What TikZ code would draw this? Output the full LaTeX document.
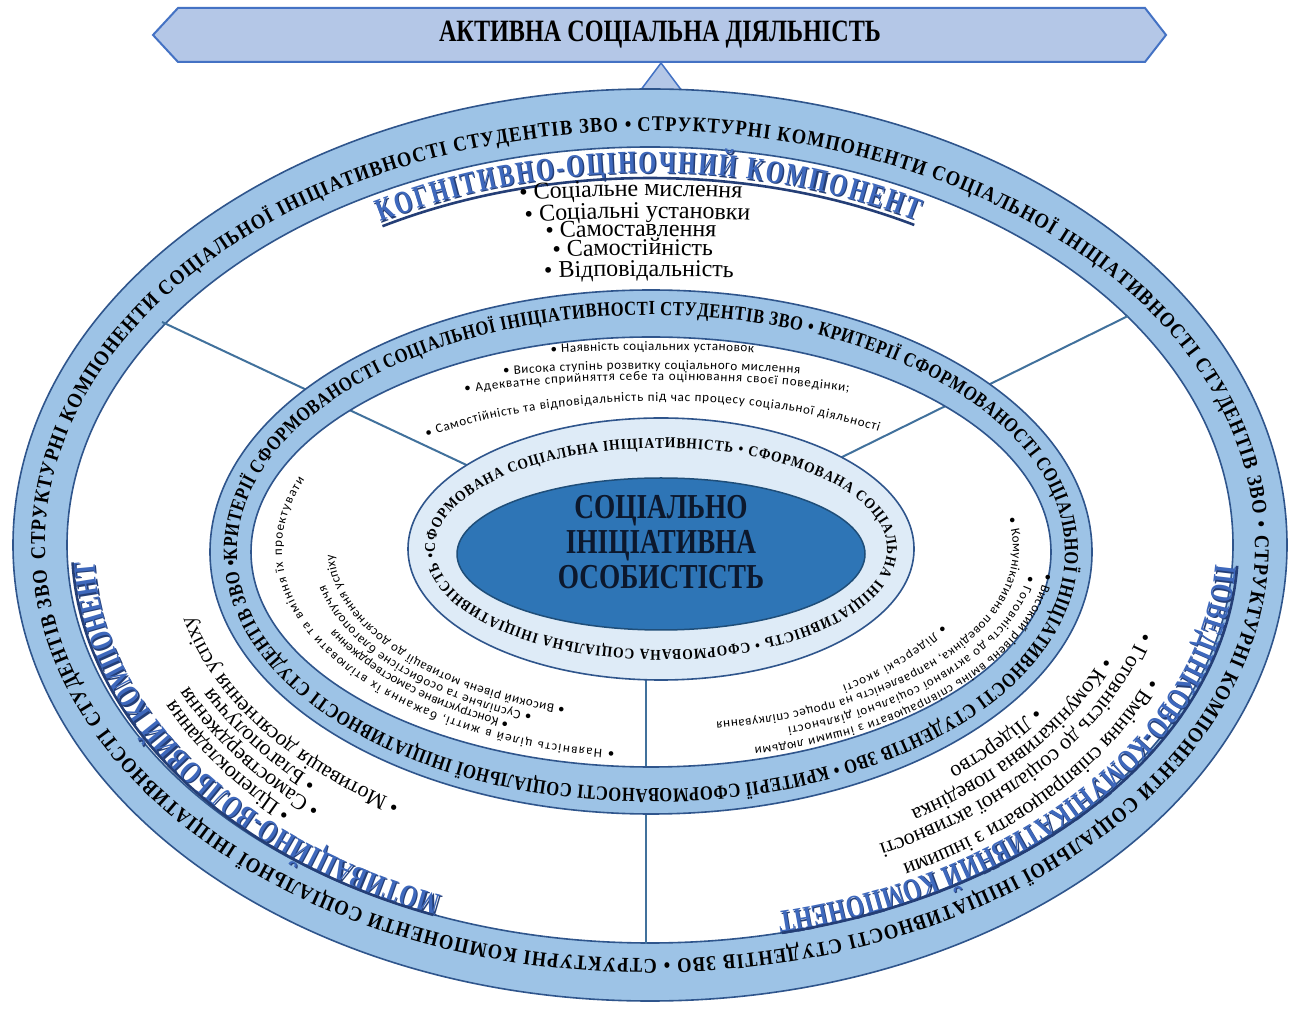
\documentclass[tikz,border=0pt]{standalone}
\usepackage{fontspec}
\setmainfont{Liberation Serif}
\newfontfamily\condA{Liberation Serif}[FakeStretch=0.78]
\newfontfamily\condR{Liberation Serif}[FakeStretch=0.88]
\newfontfamily\condM{Liberation Serif}[FakeStretch=0.83]
\newfontfamily\condI{Liberation Serif}[FakeStretch=0.9]
\newfontfamily\condH{Liberation Serif}[FakeStretch=0.72]
\newfontfamily\sansf{Carlito}
\usetikzlibrary{decorations.text}

\definecolor{bandfill}{RGB}{157,195,230}
\definecolor{bandline}{RGB}{47,85,140}
\definecolor{innerfill}{RGB}{222,235,247}
\definecolor{corefill}{RGB}{46,117,182}
\definecolor{coreline}{RGB}{31,78,121}
\definecolor{bannerfill}{RGB}{180,199,231}
\definecolor{bannerline}{RGB}{68,114,196}
\definecolor{spoke}{RGB}{65,113,156}
\definecolor{hdrblue}{RGB}{62,104,188}
\definecolor{hdrdark}{RGB}{36,62,118}
\definecolor{coretext}{RGB}{12,24,45}

% fonts used along the curves
\newcommand\fOuter{\condR\bfseries\fontsize{21}{21}\selectfont}
\newcommand\fMid{\condM\bfseries\fontsize{20}{20}\selectfont}
\newcommand\fIn{\condI\bfseries\fontsize{15}{15}\selectfont}
\newcommand\fHead{\condH\bfseries\fontsize{32}{32}\selectfont}
\newcommand\fList{\rmfamily\fontsize{24}{24}\selectfont}
\newcommand\fListB{\rmfamily\fontsize{22}{22}\selectfont}
\newcommand\fSmall{\sansf\fontsize{13}{13}\selectfont}

% text along an elliptic arc: [keys]{cx}{cy from top}{rx}{ry}{from}{to}{text}
% angles run clockwise on the page
\newcommand\arctext[8][]{%
  \path[decorate,decoration={text along path,#1,text={#8}}]
    ({#2+(#4)*cos(#6)},{1012-(#3)-(#5)*sin(#6)})
    arc[start angle={-(#6)},end angle={-(#7)},x radius={#4},y radius={#5}];}
\newcommand\arcdraw[7][]{%
  \draw[#1] ({#2+(#4)*cos(#6)},{1012-(#3)-(#5)*sin(#6)})
    arc[start angle={-(#6)},end angle={-(#7)},x radius={#4},y radius={#5}];}
% heading with a dark drop shadow: {cx}{cy}{rx}{ry}{from}{to}{text}
\newcommand\headtext[7]{%
  \begin{scope}[shift={(1.4,-1.4)}]
    \arctext[text align={fit to path},text color=hdrdark]{#1}{#2}{#3}{#4}{#5}{#6}{|\fHead|#7}
  \end{scope}
  \arctext[text align={fit to path},text color=hdrblue]{#1}{#2}{#3}{#4}{#5}{#6}{|\fHead|#7}}

\begin{document}
\begin{tikzpicture}[x=1pt,y=1pt,
  band/.style={fill=bandfill,even odd rule},
  bandedge/.style={draw=bandline,line width=1.6pt},
  spokeline/.style={draw=spoke,line width=2pt},
  hdrline/.style={draw=hdrdark,line width=2.6pt}]
\useasboundingbox (0,0) rectangle (1295,1012);
\fill[white] (0,0) rectangle (1295,1012);

% ---- banner and pointer
\filldraw[fill=bannerfill,draw=bannerline,line width=2pt]
  (153,977) -- (178,1004) -- (1145,1004) -- (1166,977) -- (1145,950) -- (178,950) -- cycle;
\node (banner) at (660,977) {\condA\bfseries\fontsize{31}{32}\selectfont АКТИВНА СОЦІАЛЬНА ДІЯЛЬНІСТЬ};
\coordinate (tipTop) at (661,949);
\coordinate (tipL) at (637,917);
\coordinate (tipR) at (685,917);
\filldraw[fill=bannerfill,draw=bannerline,line width=1.5pt] (tipL) -- (tipTop) -- (tipR) -- cycle;

% ---- outer ring
\fill[band] (650,467) ellipse[x radius=637,y radius=456] (650,467) ellipse[x radius=583,y radius=398];
\draw[bandedge] (650,467) ellipse[x radius=637,y radius=456];
\draw[bandedge] (650,467) ellipse[x radius=583,y radius=398];

% ---- spokes between the sectors
\coordinate (tlA) at (162,690); \coordinate (tlB) at (475,543);
\coordinate (trA) at (1128,696); \coordinate (trB) at (830,549);
\coordinate (btA) at (646,68);  \coordinate (btB) at (646,340);
\draw[spokeline] (tlA) -- (tlB);
\draw[spokeline] (trA) -- (trB);
\draw[spokeline] (btA) -- (btB);

% ---- middle ring
\fill[band] (651,460) ellipse[x radius=441,y radius=262] (651,460) ellipse[x radius=400,y radius=215];
\draw[bandedge] (651,460) ellipse[x radius=441,y radius=262];
\draw[bandedge] (651,460) ellipse[x radius=400,y radius=215];

% ---- inner ring and core
\filldraw[fill=innerfill,draw=bandline,line width=1.6pt] (661,463) ellipse[x radius=253,y radius=131];
\filldraw[fill=corefill,draw=coreline,line width=1.5pt] (661,458) ellipse[x radius=204,y radius=76];
\node[name=core,align=center,text=coretext,font=\condA\bfseries\fontsize{35}{35}\selectfont]
  at (661,470) {СОЦІАЛЬНО\\ІНІЦІАТИВНА\\ОСОБИСТІСТЬ};

% ---- ring captions
\arctext[text align={fit to path}]{650}{545}{605}{414}{178}{538}{|\fOuter|СТРУКТУРНІ КОМПОНЕНТИ СОЦІАЛЬНОЇ ІНІЦІАТИВНОСТІ СТУДЕНТІВ ЗВО • СТРУКТУРНІ КОМПОНЕНТИ СОЦІАЛЬНОЇ ІНІЦІАТИВНОСТІ СТУДЕНТІВ ЗВО • СТРУКТУРНІ КОМПОНЕНТИ СОЦІАЛЬНОЇ ІНІЦІАТИВНОСТІ СТУДЕНТІВ ЗВО • СТРУКТУРНІ КОМПОНЕНТИ СОЦІАЛЬНОЇ ІНІЦІАТИВНОСТІ СТУДЕНТІВ ЗВО • }
\arctext[text align={fit to path}]{651}{552}{414}{237}{178}{538}{|\fMid|КРИТЕРІЇ СФОРМОВАНОСТІ СОЦІАЛЬНОЇ ІНІЦІАТИВНОСТІ СТУДЕНТІВ ЗВО • КРИТЕРІЇ СФОРМОВАНОСТІ СОЦІАЛЬНОЇ ІНІЦІАТИВНОСТІ СТУДЕНТІВ ЗВО • КРИТЕРІЇ СФОРМОВАНОСТІ СОЦІАЛЬНОЇ ІНІЦІАТИВНОСТІ СТУДЕНТІВ ЗВО • }
\arctext[text align={fit to path}]{661}{549}{226}{101}{178}{538}{|\fIn|СФОРМОВАНА СОЦІАЛЬНА ІНІЦІАТИВНІСТЬ • СФОРМОВАНА СОЦІАЛЬНА ІНІЦІАТИВНІСТЬ • СФОРМОВАНА СОЦІАЛЬНА ІНІЦІАТИВНІСТЬ • }

% ---- component headings
\headtext{650}{545}{544}{372}{240.3}{299.3}{КОГНІТИВНО-ОЦІНОЧНИЙ КОМПОНЕНТ}
\arcdraw[hdrline]{650}{545}{540}{367}{240.3}{299.3}
\headtext{650}{545}{556}{378}{112}{177.5}{МОТИВАЦІЙНО-ВОЛЬОВИЙ КОМПОНЕНТ}
\arcdraw[hdrline]{650}{545}{578}{399}{112}{177.5}
\headtext{650}{545}{566}{377}{3}{77}{ПОВЕДІНКОВО-КОМУНІКАТИВНИЙ КОМПОНЕНТ}
\arcdraw[hdrline]{650}{545}{588}{398}{3}{77}

% ---- cognitive component
\arctext[raise=-6pt]{650}{545}{800}{355}{260.6}{285}{|\fList|• Соціальне мислення}
\arctext[raise=-6pt]{650}{545}{800}{333}{261.0}{286}{|\fList|• Соціальні установки}
\arctext[raise=-6pt]{650}{545}{800}{315}{262.5}{284}{|\fList|• Самоставлення}
\arctext[raise=-6pt]{650}{545}{800}{296}{263.0}{284}{|\fList|• Самостійність}
\arctext[raise=-6pt]{650}{545}{800}{275}{262.4}{285}{|\fList|• Відповідальність}

% ---- motivational component
\arctext[raise=-6pt]{650}{545}{476}{310}{122}{190}{|\fListB|• Мотивація досягнення успіху}
\arctext[raise=-6pt]{650}{545}{493}{330}{133}{175}{|\fListB|• Благополуччя}
\arctext[raise=-6pt]{650}{545}{512}{351}{130.5}{175}{|\fListB|• Самоствердження}
\arctext[raise=-6pt]{650}{545}{531}{371}{133}{175}{|\fListB|• Цілепокладання}

% ---- behavioural component
\arctext[raise=-6pt]{650}{545}{466}{300}{33.6}{75}{|\fListB|• Лідерство}
\arctext[raise=-6pt]{650}{545}{490}{321}{21}{80}{|\fListB|• Комунікативна поведінка}
\arctext[raise=-6pt]{650}{545}{513}{342}{15}{85}{|\fListB|• Готовність до соціальної активності}
\arctext[raise=-6pt]{650}{545}{541}{369}{21.5}{85}{|\fListB|• Вміння співпрацювати з іншими}

% ---- criteria, cognitive
\arctext[raise=-3pt,text align={fit to path}]{661}{549}{600}{202}{259.4}{278.9}{|\fSmall|• Наявність соціальних установок}
\arctext[raise=-3pt,text align={fit to path}]{661}{549}{622}{183}{255.3}{282.9}{|\fSmall|• Висока ступінь розвитку соціального мислення}
\arctext[raise=-3pt,text align={fit to path}]{661}{549}{520}{172}{247.8}{291.2}{|\fSmall|• Адекватне сприйняття себе та оцінювання своєї поведінки;}
\arctext[raise=-3pt,text align={fit to path}]{661}{549}{362}{151}{229.5}{307}{|\fSmall|• Самостійність та відповідальність під час процесу соціальної діяльності}

% ---- criteria, motivational
\arctext[raise=-3pt,text align={fit to path}]{661}{549}{330}{168}{107}{178}{|\fSmall|• Високий рівень мотивації до досягнення успіху}
\arctext[raise=-3pt,text align={fit to path}]{661}{549}{346}{181}{112}{168}{|\fSmall|• Суспільне та особистісне благополуччя}
\arctext[raise=-3pt,text align={fit to path}]{661}{549}{362}{193}{115}{155}{|\fSmall|• Конструктивне самоствердження}
\arctext[raise=-3pt,text align={fit to path}]{661}{549}{382}{206}{97}{200}{|\fSmall|• Наявність цілей в житті, бажання їх втілювати та вміння їх проектувати}

% ---- criteria, behavioural
\arctext[raise=-3pt,text align={fit to path}]{661}{549}{318}{170}{27}{55}{|\fSmall|• Лідерські якості}
\arctext[raise=-3pt,text align={fit to path}]{661}{549}{355}{178}{-10}{81}{|\fSmall|• Комунікативна поведінка, направленість на процес спілкування}
\arctext[raise=-3pt,text align={fit to path}]{661}{549}{373}{193}{8}{70}{|\fSmall|• Готовність до активної соціальної діяльності}
\arctext[raise=-3pt,text align={fit to path}]{661}{549}{390}{208}{7}{76}{|\fSmall|• Високий рівень вмінь співпрацювати з іншими людьми}
\end{tikzpicture}
\end{document}
